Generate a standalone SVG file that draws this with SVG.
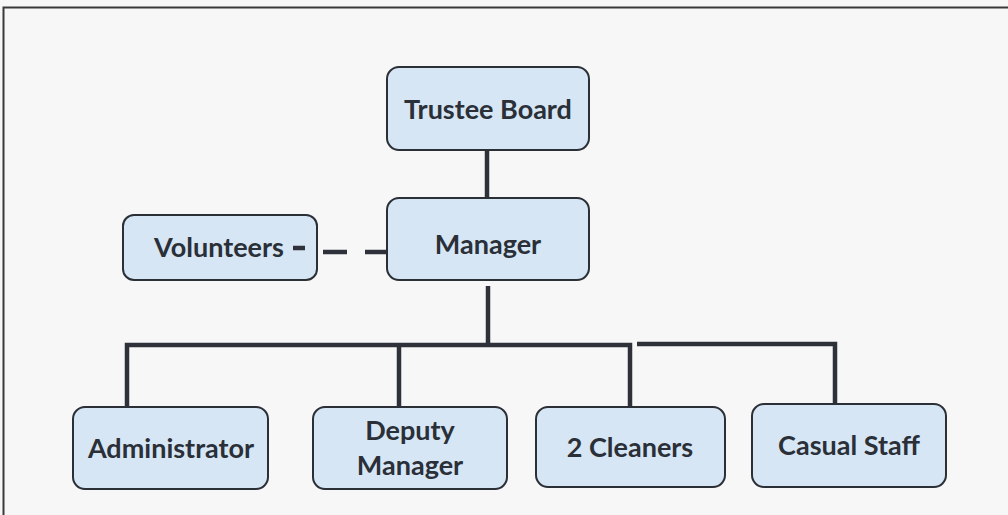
<svg xmlns="http://www.w3.org/2000/svg" width="1008" height="515" viewBox="0 0 1008 515">
<style>
.box{fill:#d6e6f4;stroke:#2b2f36;stroke-width:2}
.lbl{font-family:Lato,"Open Sans","Liberation Sans",sans-serif;font-weight:bold;font-size:27px;fill:#2a2f38;text-anchor:middle}
.ln{stroke:#2e3139;stroke-width:4.5;fill:none}
</style>
<rect width="1008" height="515" fill="#f7f7f7"/>
<path d="M3.5,515 V7.5 H1008" fill="none" stroke="#3a3a3a" stroke-width="2"/>
<g id="trustee"><rect class="box" x="387" y="67" width="202" height="83" rx="12"/><text class="lbl" x="488" y="119">Trustee Board</text></g>
<g id="manager"><rect class="box" x="387" y="198" width="202" height="82" rx="12"/><text class="lbl" x="488" y="254">Manager</text></g>
<g id="volunteers"><rect class="box" x="123" y="215" width="194" height="65" rx="11"/><text class="lbl" x="219" y="257">Volunteers</text></g>
<g id="administrator"><rect class="box" x="73" y="407" width="195" height="82" rx="12"/><text class="lbl" x="171" y="458">Administrator</text></g>
<g id="deputy"><rect class="box" x="313" y="407" width="194" height="82" rx="12"/><text class="lbl" x="410" y="440">Deputy</text><text class="lbl" x="410" y="475">Manager</text></g>
<g id="cleaners"><rect class="box" x="536" y="407" width="189" height="80" rx="12"/><text class="lbl" x="630" y="457">2 Cleaners</text></g>
<g id="casual"><rect class="box" x="752" y="404" width="194" height="83" rx="12"/><text class="lbl" x="849" y="455">Casual Staff</text></g>
<g id="connectors">
<line class="ln" x1="487" y1="151" x2="487" y2="197"/>
<line class="ln" x1="488" y1="286" x2="488" y2="345"/>
<polyline class="ln" points="127,406 127,345 630,345 630,406"/>
<line class="ln" x1="399" y1="345" x2="399" y2="406"/>
<polyline class="ln" points="637,344 835,344 835,403"/>
<line class="ln" x1="293" y1="248" x2="305" y2="248"/>
<line class="ln" x1="323" y1="252" x2="347" y2="252"/>
<line class="ln" x1="365" y1="252" x2="386" y2="252"/>
</g>
</svg>
